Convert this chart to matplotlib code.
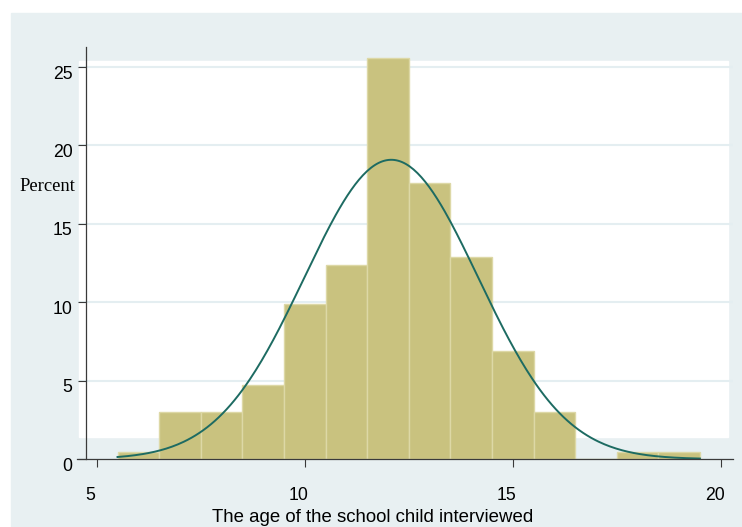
import numpy as np
import matplotlib
matplotlib.use("Agg")
import matplotlib.pyplot as plt
from matplotlib.patches import Rectangle
from matplotlib.transforms import ScaledTranslation

# histogram of age (percent per 1-year bin), bins start at 5.5
bin_left = [5.5, 6.5, 7.5, 8.5, 9.5, 10.5, 11.5, 12.5, 13.5, 14.5, 15.5, 16.5, 17.5, 18.5]
percent = [0.43, 3.0, 3.0, 4.7, 9.9, 12.4, 25.6, 17.6, 12.9, 6.9, 3.0, 0.0, 0.43, 0.43]
BIN_WIDTH = 1.0

# normal density overlay
curve_mean = 12.08
curve_sd = 2.09
curve_range = (5.5, 19.5)

x_ticks = [5, 10, 15, 20]
y_ticks = [0, 5, 10, 15, 20, 25]

BG = "#e8f0f2"
BAR = "#c9c27f"
BAR_EDGE = "#ddd8a6"
LINE = "#1d6b62"
AXIS = "#3a3a3a"

W, H = 742, 527
fig = plt.figure(figsize=(W / 100, H / 100), dpi=100)
fig.patch.set_facecolor("white")

# outer graph region and inner plot region (Stata s2color look)
fig.add_artist(Rectangle((11 / W, 0), 1 - 11 / W, 1 - 13 / H,
                         transform=fig.transFigure, color=BG, zorder=-10))
fig.add_artist(Rectangle((79 / W, 1 - 436.7 / H), (727.7 - 79) / W, (436.7 - 61) / H,
                         transform=fig.transFigure, color="white", zorder=-9))

ax = fig.add_axes([77 / W, 1 - 459.1 / H, (732.7 - 77) / W, (459.1 - 46.7) / H])
ax.set_facecolor("none")

ax.bar(bin_left, percent, width=BIN_WIDTH, align="edge", color=BAR,
       edgecolor=BAR_EDGE, linewidth=1.0, zorder=2)

xs = np.linspace(curve_range[0], curve_range[1], 300)
dens = 100 * BIN_WIDTH / (curve_sd * np.sqrt(2 * np.pi)) * np.exp(-0.5 * ((xs - curve_mean) / curve_sd) ** 2)
ax.plot(xs, dens, color=LINE, linewidth=1.4, zorder=3)

ax.set_xlim(4.526, 20.288)
ax.set_ylim(0, 26.3)
ax.spines["top"].set_visible(False)
ax.spines["right"].set_visible(False)
ax.spines["left"].set_position(("data", 4.736))
for s in ("left", "bottom"):
    ax.spines[s].set_color(AXIS)
    ax.spines[s].set_linewidth(0.9)
    ax.spines[s].set_zorder(4)

ax.set_yticks(y_ticks)
ax.set_xticks(x_ticks)
ax.grid(axis="y", color="#e4eef1", linewidth=1.5, zorder=1)
ax.set_axisbelow(True)

ax.tick_params(axis="y", direction="out", length=5.5, width=0.8, color=AXIS,
               pad=4, labelsize=12.7, labelcolor="black")
ax.tick_params(axis="x", direction="out", length=5.8, width=0.8, color=AXIS,
               pad=14, labelsize=12.7, labelcolor="black")
for lab in ax.get_yticklabels() + ax.get_xticklabels():
    lab.set_fontfamily("Liberation Sans")

yshift = ScaledTranslation(0, -5 / 100, fig.dpi_scale_trans)
for lab in ax.get_yticklabels():
    lab.set_transform(lab.get_transform() + yshift)
xshift = ScaledTranslation(-6 / 100, 0, fig.dpi_scale_trans)
for lab in ax.get_xticklabels():
    lab.set_transform(lab.get_transform() + xshift)

fig.text(373 / W, 1 - 521.7 / H, "The age of the school child interviewed",
         ha="center", va="baseline", fontsize=13.4, fontfamily="Liberation Sans")

fig.text(75 / W, 1 - 190.7 / H, "Percent", ha="right", va="baseline",
         fontsize=13.4, fontfamily="Liberation Serif")

fig.savefig("out.png", dpi=100)
